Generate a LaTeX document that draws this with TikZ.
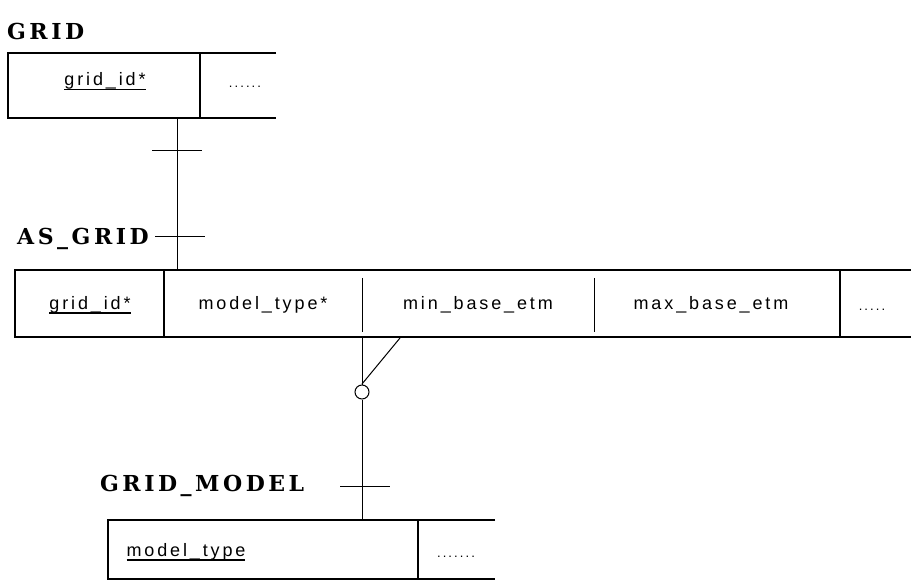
\documentclass[tikz,border=0pt]{standalone}
\usepackage{fontspec}
\setmainfont{Liberation Sans}
\newfontfamily\fieldfont[LetterSpace=16]{Liberation Sans}
\newfontfamily\headfont[LetterSpace=16]{DejaVu Serif}
\newcommand\keyul[1]{\setbox0=\hbox{#1}\rlap{\copy0}\rule[-4.5pt]{\wd0}{1.5pt}}
\begin{document}
\begin{tikzpicture}[x=1pt,y=-1pt,
  boxline/.style={line width=1.6pt},
  conn/.style={line width=1pt},
  field/.style={font=\fieldfont\fontsize{18}{20}\selectfont, anchor=base, inner sep=0pt},
  dots/.style={font=\fieldfont\fontsize{13}{15}\selectfont, anchor=base, inner sep=0pt},
  ename/.style={font=\headfont\bfseries\fontsize{22}{26}\selectfont, anchor=west, inner sep=0pt}]
\useasboundingbox (0,0) rectangle (911,580);

% ---- GRID entity
\node[ename] (gridlbl) at (7,31) {GRID};
\draw[boxline] (276,53) -- (8,53) -- (8,118) -- (276,118);
\draw[boxline] (200,53) -- (200,118);
\node[field] (gridid) at (105,86) {\keyul{grid\_id*}};
\node[dots] (griddots) at (245,88) {......};
\coordinate (gridB) at (177,118);

% ---- AS_GRID entity
\node[ename] (aslbl) at (17,239) {AS\_GRID};
\draw[boxline] (911,270) -- (15,270) -- (15,337) -- (911,337);
\draw[boxline] (164,270) -- (164,337);
\draw[line width=1pt] (362,278) -- (362,332);
\draw[line width=1pt] (594,278) -- (594,332);
\draw[boxline] (840,270) -- (840,337);
\node[field] (asgid) at (90,309) {\keyul{grid\_id*}};
\node[field] (asmt) at (263,309) {model\_type*};
\node[field] (asmin) at (478,309) {min\_base\_etm};
\node[field] (asmax) at (711,309) {max\_base\_etm};
\node[dots] (asdots) at (872,311) {.....};
\coordinate (asT) at (177,270);
\coordinate (asB) at (362,337);
\coordinate (asD) at (400,338);

% ---- GRID_MODEL entity
\node[ename] (gmlbl) at (100,486) {GRID\_MODEL};
\draw[boxline] (495,520) -- (108,520) -- (108,579) -- (495,579);
\draw[boxline] (418,520) -- (418,579);
\node[field] (gmmt) at (186,556) {\keyul{model\_type}};
\node[dots] (gmdots) at (456,557) {.......};
\coordinate (gmT) at (362,520);

% ---- GRID -- AS_GRID relationship (one to one)
\draw[conn] (gridB) -- (asT);
\coordinate (t1a) at (152,151);
\coordinate (t1b) at (202,151);
\draw[conn] (t1a) -- (t1b);
\coordinate (t2a) at (155,237);
\coordinate (t2b) at (205,237);
\draw[conn] (t2a) -- (t2b);

% ---- AS_GRID -- GRID_MODEL relationship (zero-or-many to one)
\node[circle, draw, line width=1pt, minimum size=14pt, inner sep=0pt] (circ) at (362,392) {};
\coordinate (diagEnd) at (362,384);
\draw[conn] (asB) -- (circ.north);
\draw[conn] (asD) -- (diagEnd);
\draw[conn] (circ.south) -- (gmT);
\coordinate (t3a) at (340,486);
\coordinate (t3b) at (390,486);
\draw[conn] (t3a) -- (t3b);
\end{tikzpicture}
\end{document}
